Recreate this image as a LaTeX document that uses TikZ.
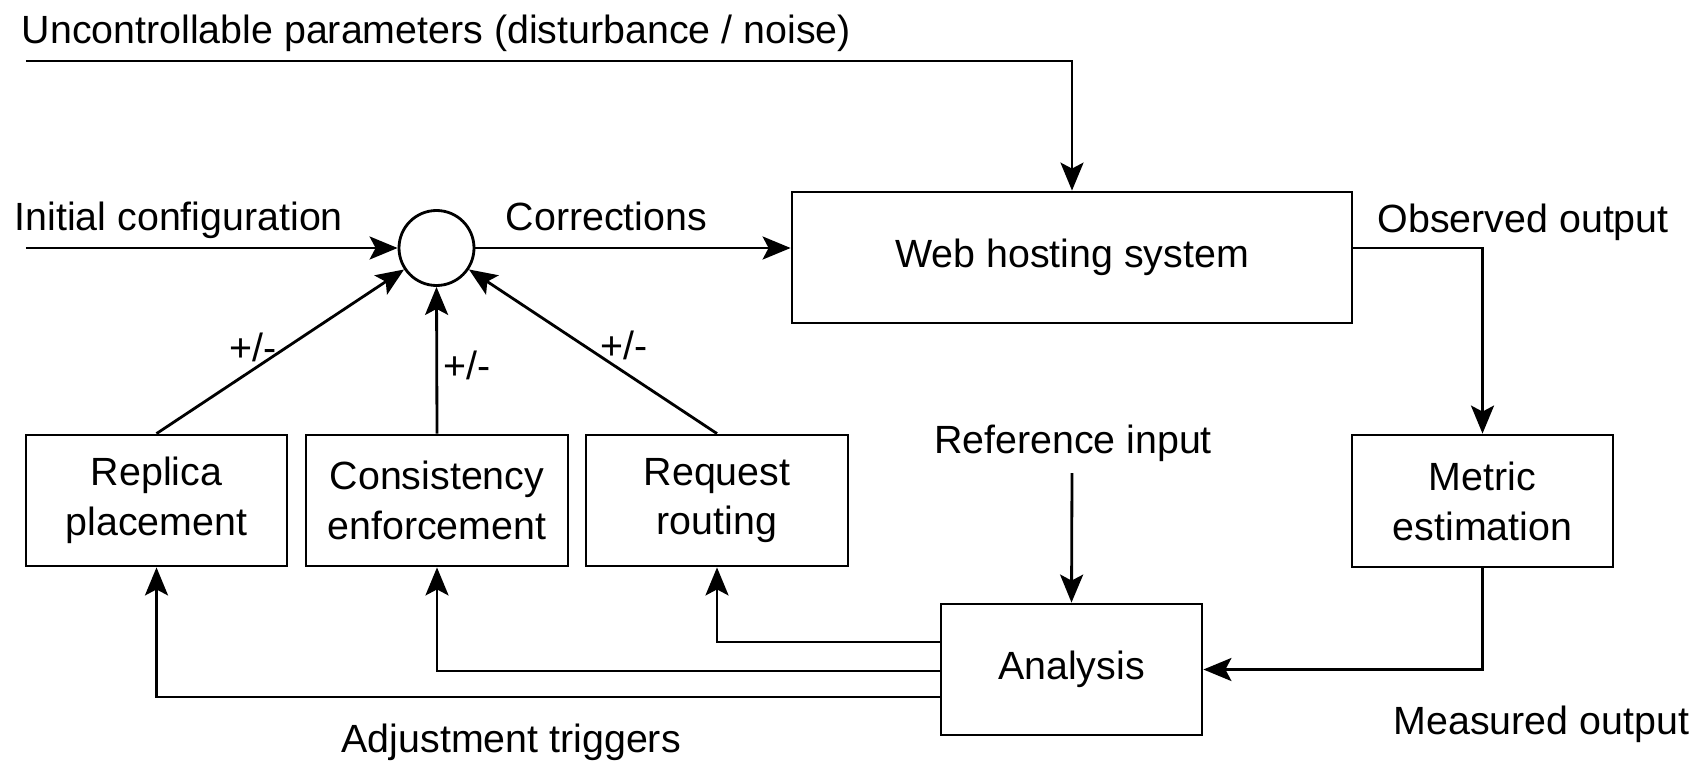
\documentclass[tikz,border=0pt]{standalone}
\usepackage{fontspec}
\setmainfont{Liberation Sans}
\usepackage{tikz}
\usetikzlibrary{arrows.meta}
\usetikzlibrary{positioning}
\tikzstyle{ctrlbox} = [draw=black, line width=0.8pt, rectangle, inner sep=0pt,
align=center, minimum height=1.31cm]
\tikzstyle{sumnode} = [draw=black, line width=0.8pt, circle, inner sep=0pt,
minimum size=0.75cm]
\tikzstyle{lbl} = [inner sep=0pt]
\tikzstyle{flow} = [line width=0.8pt, -{Stealth[length=2.8mm, width=2.3mm, inset=0.6mm]}]

\begin{document}
\begin{tikzpicture}[font=\fontsize{11.2}{14.2}\selectfont]
        \useasboundingbox (0,0) rectangle (17.06,-7.62);
        \node [sumnode] (sum) at (4.365,-2.48) {};
        \node [ctrlbox, minimum width=5.60cm] (web) at (10.72,-2.575) {Web hosting system};
        \node [ctrlbox, minimum width=2.61cm] (replica) at (1.565,-5.005) {Replica\\placement};
        \node [ctrlbox, minimum width=2.62cm] (consist) at (4.37,-5.005) {Consistency\\enforcement};
        \node [ctrlbox, minimum width=2.62cm] (request) at (7.17,-5.005) {Request\\routing};
        \node [ctrlbox, minimum width=2.61cm, minimum height=1.32cm] (metric) at (14.825,-5.01) {Metric\\estimation};
        \node [ctrlbox, minimum width=2.61cm] (analysis) at (10.715,-6.695) {Analysis};

        \coordinate (noisein) at (0.26,-0.61);
        \coordinate (initin) at (0.26,-2.48);
        \coordinate (refin) at (10.72,-4.73);

        \node [lbl, anchor=base west] (noise) at (0.21,-0.43) {Uncontrollable parameters (disturbance / noise)};
        \node [lbl, anchor=base west] (initcfg) at (0.14,-2.30) {Initial configuration};
        \node [lbl, anchor=base west] (corr) at (5.05,-2.30) {Corrections};
        \node [lbl, anchor=base west] (observed) at (13.77,-2.32) {Observed output};
        \node [lbl, anchor=base] (reference) at (10.73,-4.53) {Reference input};
        \node [lbl, anchor=base west] (measured) at (13.93,-7.34) {Measured output};
        \node [lbl, anchor=base west] (triggers) at (3.41,-7.52) {Adjustment triggers};
        \node [lbl] (pmreplica) at (2.53,-3.47) {+/-};
        \node [lbl] (pmconsist) at (4.67,-3.65) {+/-};
        \node [lbl] (pmrequest) at (6.24,-3.45) {+/-};

        \draw [flow] (noisein) -| (web.north);
        \draw [flow] (initin) -- (sum.west);
        \draw [flow] (sum.east) -- (sum.east -| web.west);
        \draw [flow] (sum -| web.east) -| (metric.north);
        \draw [flow] (metric.south) |- (analysis.east);
        \draw [flow] (refin) -- (analysis.north);
        \draw [flow] ([yshift=0.275cm]analysis.west) -| (request.south);
        \draw [flow] ([yshift=-0.015cm]analysis.west) -| (consist.south);
        \draw [flow] ([yshift=-0.275cm]analysis.west) -| (replica.south);
        \draw [flow] (replica.north) -- (sum);
        \draw [flow] (consist.north) -- (sum.south);
        \draw [flow] (request.north) -- (sum);
    \end{tikzpicture}
\end{document}
